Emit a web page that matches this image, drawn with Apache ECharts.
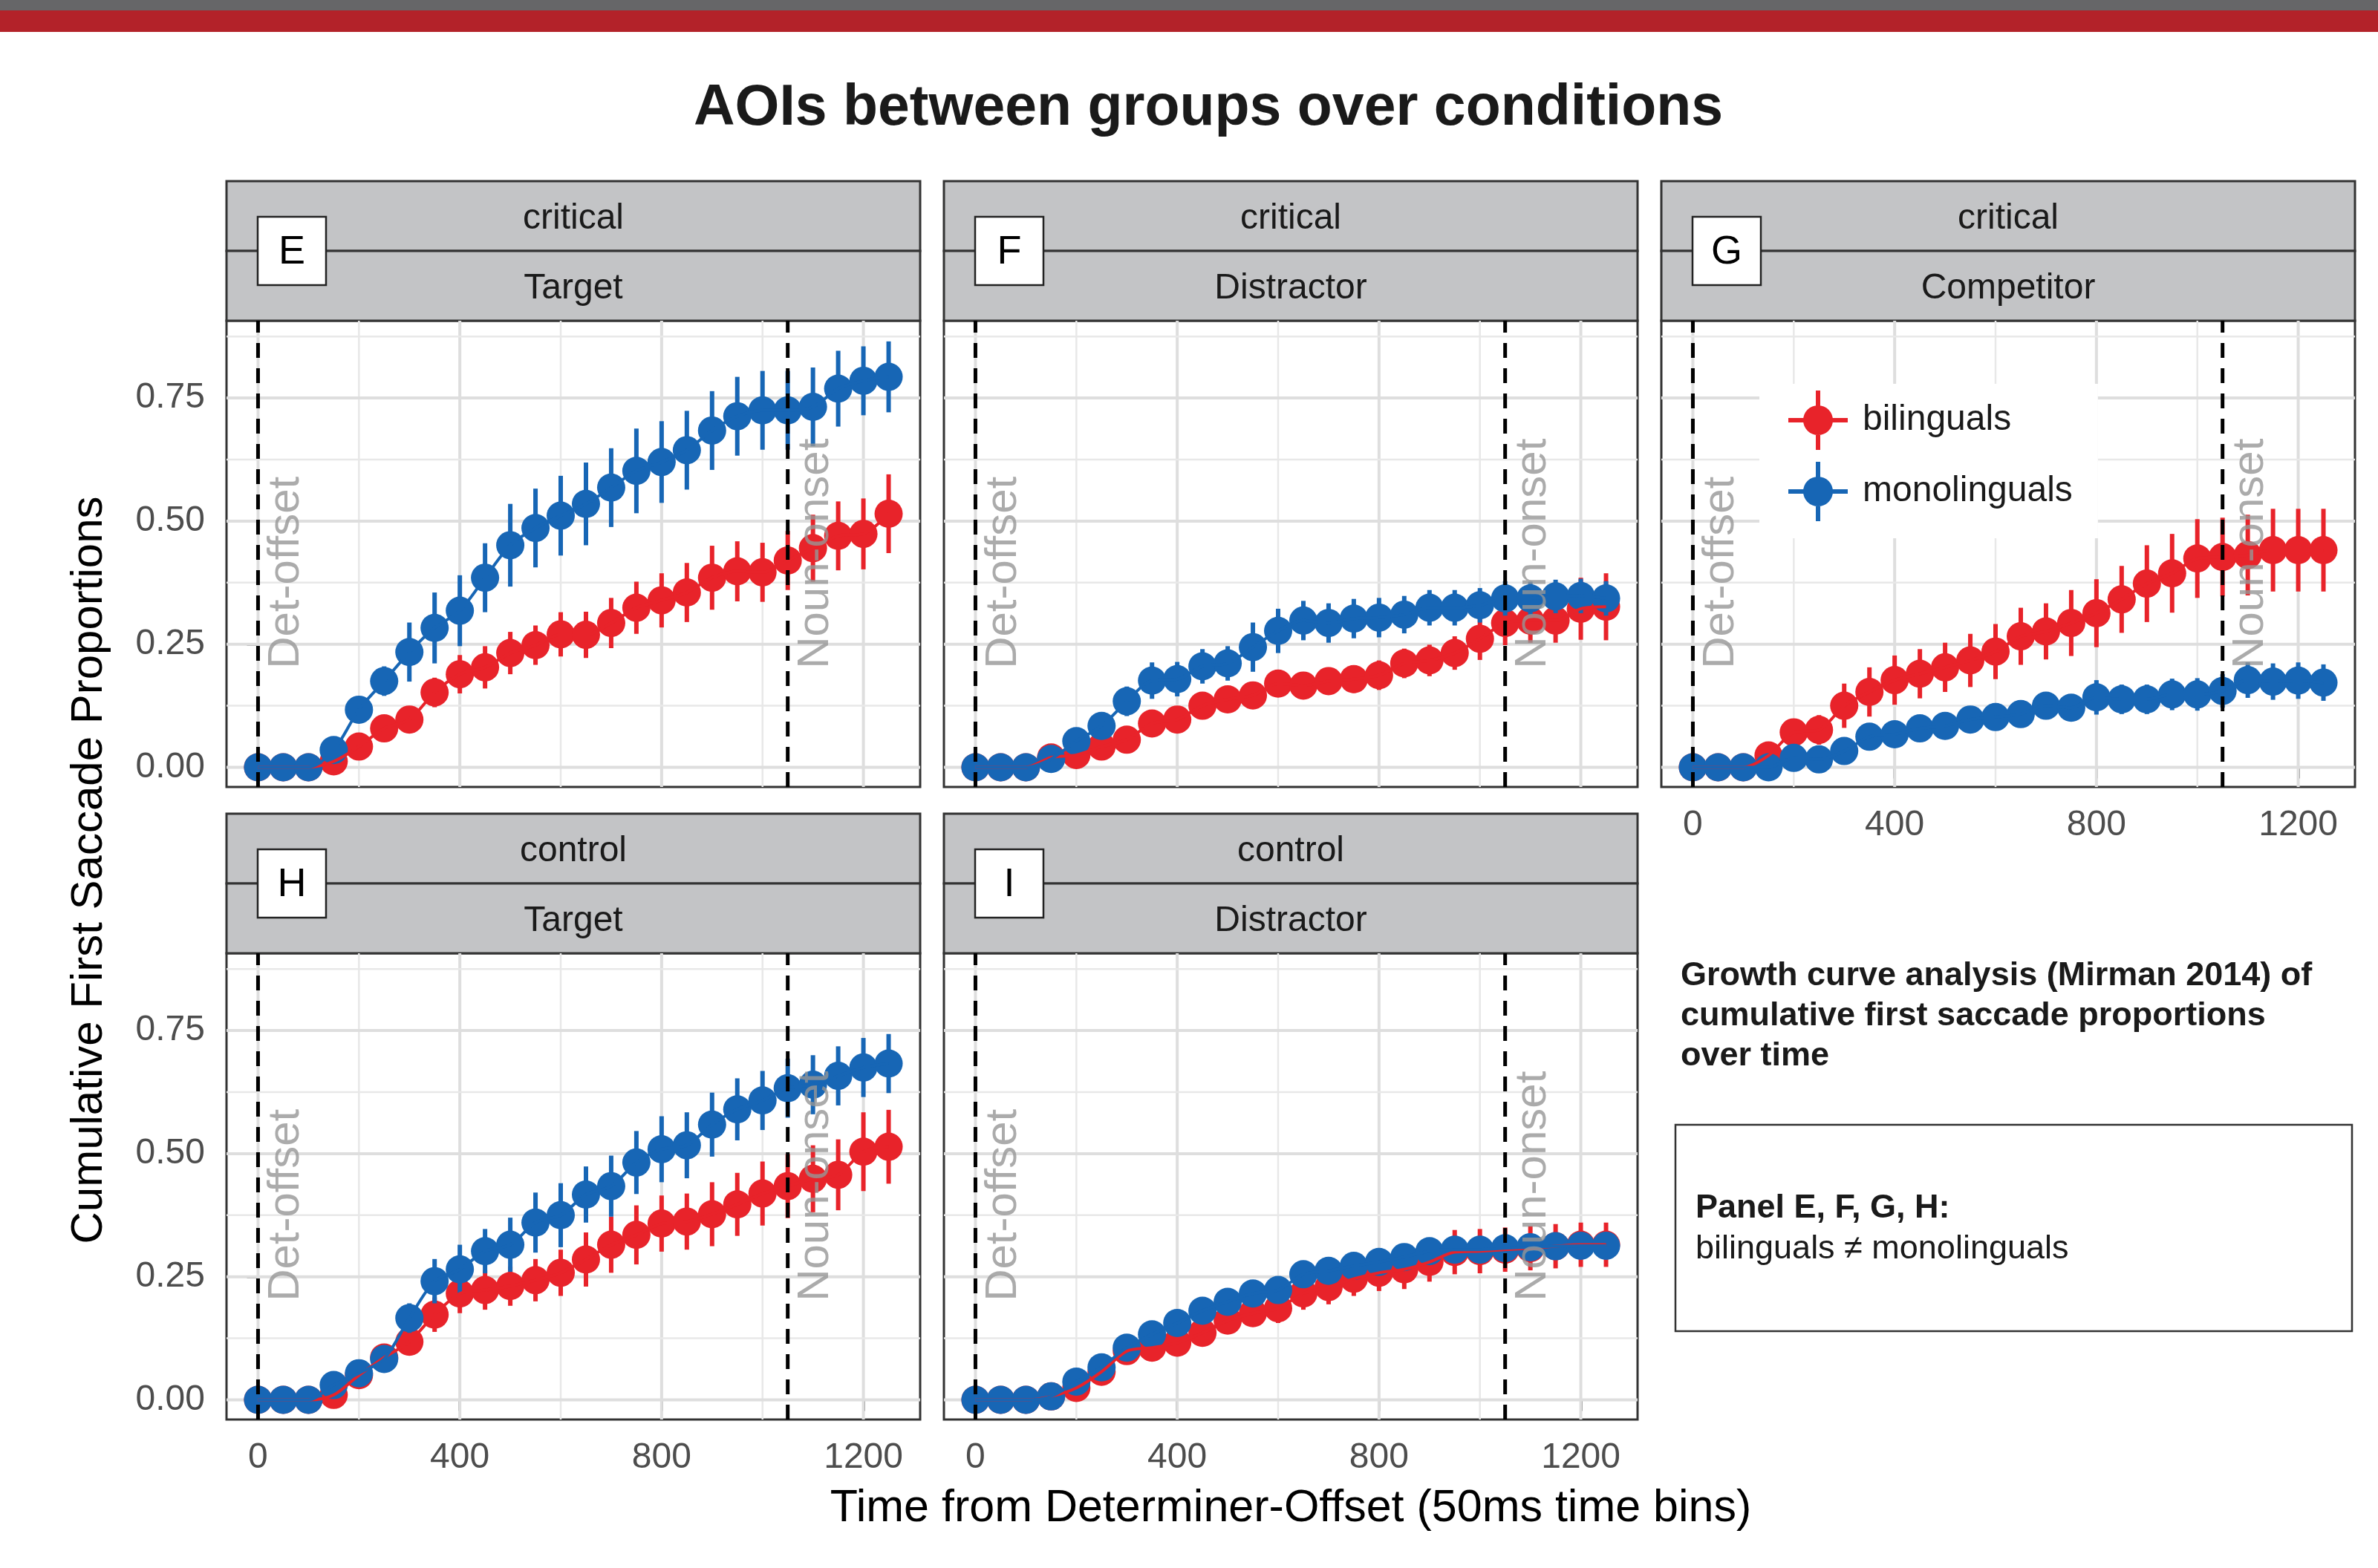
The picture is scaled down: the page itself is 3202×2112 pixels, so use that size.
<!DOCTYPE html>
<html>
<head>
<meta charset="utf-8">
<script src="https://cdn.jsdelivr.net/npm/echarts@6.0.0/dist/echarts.min.js"></script>
<style>
  html, body { margin: 0; padding: 0; background: #fff; }
  #chart { width: 3202px; height: 2112px; }
</style>
</head>
<body>
<div id="chart"></div>
<script>
// time bins, ms from determiner offset (50ms bins)
var timeBins = [0, 50, 100, 150, 200, 250, 300, 350, 400, 450, 500, 550, 600, 650,
  700, 750, 800, 850, 900, 950, 1000, 1050, 1100, 1150, 1200, 1250];
var xTicks = [0, 400, 800, 1200];
var xMinor = [200, 600, 1000];
var yTicks = [0, 0.25, 0.5, 0.75];
var yMinor = [0.125, 0.375, 0.625, 0.875];
var eventTimes = [0, 1050];
var eventNames = ['Det-offset', 'Noun-onset'];
var eventLabelY = 0.2;
var groupNames = ['bilinguals', 'monolinguals'];

// E: critical / Target
var biE = [0, 0, 0, 0.012, 0.042, 0.079, 0.097, 0.152, 0.189, 0.203, 0.232, 0.248, 0.270, 0.269,
  0.293, 0.324, 0.339, 0.355, 0.385, 0.398, 0.396, 0.420, 0.445, 0.470, 0.474, 0.515];
var biEerr = [0, 0, 0, 0.005, 0.01, 0.015, 0.02, 0.03, 0.039, 0.043, 0.043, 0.04, 0.045, 0.047,
  0.051, 0.053, 0.055, 0.06, 0.065, 0.061, 0.06, 0.06, 0.068, 0.07, 0.072, 0.08];
var monoE = [0, 0, 0, 0.035, 0.117, 0.175, 0.234, 0.283, 0.318, 0.385, 0.451, 0.486, 0.511, 0.535,
  0.568, 0.602, 0.620, 0.644, 0.684, 0.713, 0.725, 0.725, 0.732, 0.769, 0.785, 0.793];
var monoEerr = [0, 0, 0, 0.008, 0.015, 0.03, 0.06, 0.072, 0.072, 0.07, 0.084, 0.08, 0.081, 0.084,
  0.08, 0.086, 0.083, 0.08, 0.08, 0.08, 0.08, 0.08, 0.08, 0.077, 0.07, 0.072];

// F: critical / Distractor
var biF = [0, 0, 0, 0.02, 0.025, 0.042, 0.056, 0.089, 0.097, 0.125, 0.138, 0.146, 0.170, 0.166,
  0.175, 0.179, 0.187, 0.211, 0.217, 0.232, 0.261, 0.293, 0.298, 0.298, 0.322, 0.326];
var biFerr = [0, 0, 0, 0.005, 0.01, 0.012, 0.015, 0.02, 0.02, 0.022, 0.025, 0.025, 0.027, 0.027,
  0.028, 0.028, 0.03, 0.03, 0.032, 0.034, 0.043, 0.045, 0.045, 0.045, 0.063, 0.068];
var monoF = [0, 0, 0, 0.017, 0.053, 0.084, 0.134, 0.176, 0.179, 0.205, 0.211, 0.244, 0.277, 0.298,
  0.293, 0.302, 0.304, 0.310, 0.324, 0.324, 0.329, 0.343, 0.343, 0.347, 0.348, 0.343];
var monoFerr = [0, 0, 0, 0.005, 0.01, 0.02, 0.03, 0.037, 0.035, 0.035, 0.035, 0.05, 0.045, 0.04,
  0.04, 0.04, 0.04, 0.038, 0.036, 0.036, 0.035, 0.035, 0.034, 0.034, 0.035, 0.035];

// G: critical / Competitor
var biG = [0, 0, 0, 0.024, 0.071, 0.076, 0.125, 0.153, 0.177, 0.190, 0.203, 0.217, 0.235, 0.266,
  0.276, 0.293, 0.313, 0.341, 0.373, 0.394, 0.424, 0.427, 0.431, 0.441, 0.441, 0.441];
var biGerr = [0, 0, 0, 0.008, 0.02, 0.03, 0.045, 0.05, 0.05, 0.05, 0.05, 0.054, 0.056, 0.058,
  0.057, 0.067, 0.069, 0.068, 0.078, 0.08, 0.08, 0.08, 0.082, 0.084, 0.084, 0.084];
var monoG = [0, 0, 0, 0, 0.019, 0.016, 0.033, 0.062, 0.067, 0.079, 0.084, 0.097, 0.102, 0.108,
  0.125, 0.121, 0.142, 0.138, 0.138, 0.148, 0.148, 0.155, 0.177, 0.174, 0.176, 0.172];
var monoGerr = [0, 0, 0, 0, 0.005, 0.008, 0.01, 0.012, 0.014, 0.015, 0.016, 0.018, 0.02, 0.022,
  0.024, 0.026, 0.035, 0.03, 0.03, 0.032, 0.033, 0.034, 0.036, 0.037, 0.037, 0.037];

// H: control / Target
var biH = [0, 0, 0, 0.010, 0.050, 0.086, 0.118, 0.173, 0.216, 0.223, 0.231, 0.243, 0.258, 0.285,
  0.315, 0.335, 0.358, 0.362, 0.377, 0.397, 0.419, 0.434, 0.449, 0.457, 0.504, 0.514];
var biHerr = [0, 0, 0, 0.005, 0.01, 0.015, 0.025, 0.035, 0.04, 0.04, 0.04, 0.043, 0.047, 0.055,
  0.057, 0.06, 0.057, 0.057, 0.065, 0.064, 0.065, 0.065, 0.068, 0.072, 0.08, 0.075];
var monoH = [0, 0, 0, 0.030, 0.054, 0.083, 0.166, 0.241, 0.265, 0.302, 0.315, 0.360, 0.375, 0.417,
  0.434, 0.482, 0.509, 0.517, 0.559, 0.590, 0.608, 0.633, 0.640, 0.658, 0.675, 0.683];
var monoHerr = [0, 0, 0, 0.005, 0.01, 0.015, 0.03, 0.045, 0.05, 0.045, 0.055, 0.061, 0.065, 0.057,
  0.062, 0.064, 0.067, 0.067, 0.065, 0.063, 0.06, 0.06, 0.06, 0.06, 0.06, 0.06];

// I: control / Distractor
var biI = [0, 0, 0, 0.007, 0.024, 0.057, 0.099, 0.106, 0.116, 0.136, 0.161, 0.176, 0.186, 0.216,
  0.229, 0.246, 0.258, 0.265, 0.280, 0.300, 0.302, 0.305, 0.308, 0.312, 0.315, 0.315];
var biIerr = [0, 0, 0, 0.005, 0.008, 0.01, 0.015, 0.018, 0.02, 0.022, 0.025, 0.027, 0.03, 0.033,
  0.035, 0.035, 0.037, 0.04, 0.04, 0.045, 0.045, 0.045, 0.045, 0.045, 0.045, 0.045];
var monoI = [0, 0, 0, 0.007, 0.037, 0.066, 0.106, 0.133, 0.156, 0.181, 0.199, 0.216, 0.223, 0.255,
  0.262, 0.272, 0.280, 0.290, 0.302, 0.305, 0.305, 0.308, 0.310, 0.312, 0.313, 0.313];
var monoIerr = [0, 0, 0, 0.005, 0.008, 0.01, 0.012, 0.014, 0.015, 0.016, 0.017, 0.018, 0.019, 0.02,
  0.02, 0.021, 0.022, 0.022, 0.023, 0.023, 0.024, 0.024, 0.024, 0.025, 0.025, 0.025];

var FONT = '"Liberation Sans", Arial, Helvetica, sans-serif';
var RED = '#e8232a';
var BLUE = '#1766b5';

// layout
var colLeft = [305, 1271, 2237];
var rowTop = [432, 1284];
var panelW = 934, panelH = 628, stripH = 94;

var panels = [
  { row: 0, col: 0, letter: 'E', cond: 'critical', aoi: 'Target', bi: biE, biErr: biEerr, mono: monoE, monoErr: monoEerr, xLab: false, yLab: true },
  { row: 0, col: 1, letter: 'F', cond: 'critical', aoi: 'Distractor', bi: biF, biErr: biFerr, mono: monoF, monoErr: monoFerr, xLab: false, yLab: false },
  { row: 0, col: 2, letter: 'G', cond: 'critical', aoi: 'Competitor', bi: biG, biErr: biGerr, mono: monoG, monoErr: monoGerr, xLab: true, yLab: false },
  { row: 1, col: 0, letter: 'H', cond: 'control', aoi: 'Target', bi: biH, biErr: biHerr, mono: monoH, monoErr: monoHerr, xLab: true, yLab: true },
  { row: 1, col: 1, letter: 'I', cond: 'control', aoi: 'Distractor', bi: biI, biErr: biIerr, mono: monoI, monoErr: monoIerr, xLab: true, yLab: false }
];

function ruleSeries(gi) {
  var items = [];
  xTicks.forEach(function (v) { items.push([v, 0, 1]); });
  xMinor.forEach(function (v) { items.push([v, 0, 0]); });
  yTicks.forEach(function (v) { items.push([v, 1, 1]); });
  yMinor.forEach(function (v) { items.push([v, 1, 0]); });
  return {
    type: 'custom', xAxisIndex: gi, yAxisIndex: gi, silent: true, z: 1,
    encode: { x: 0 },
    data: items,
    renderItem: function (params, api) {
      var v = api.value(0), horiz = api.value(1), major = api.value(2);
      var cs = params.coordSys, shape;
      if (horiz) {
        var py = api.coord([0, v])[1];
        shape = { x1: cs.x, y1: py, x2: cs.x + cs.width, y2: py };
      } else {
        var px = api.coord([v, 0])[0];
        shape = { x1: px, y1: cs.y, x2: px, y2: cs.y + cs.height };
      }
      return { type: 'line', shape: shape, style: { stroke: major ? '#dedede' : '#e8e8e8', lineWidth: major ? 4 : 2.5 } };
    }
  };
}

function errSeries(gi, vals, errs, color, z) {
  return {
    type: 'custom', xAxisIndex: gi, yAxisIndex: gi, silent: true, z: z,
    encode: { x: 0, y: [1, 2] },
    data: timeBins.map(function (t, i) { return [t, vals[i] - errs[i], vals[i] + errs[i]]; }),
    renderItem: function (params, api) {
      var a = api.coord([api.value(0), api.value(1)]);
      var b = api.coord([api.value(0), api.value(2)]);
      return { type: 'line', shape: { x1: a[0], y1: a[1], x2: b[0], y2: b[1] }, style: { stroke: color, lineWidth: 6 } };
    }
  };
}

function pointSeries(gi, name, vals, color, z) {
  return {
    type: 'scatter', name: name, xAxisIndex: gi, yAxisIndex: gi, z: z, silent: true,
    symbol: 'circle', symbolSize: 38,
    itemStyle: { color: color, opacity: 1, borderWidth: 0 },
    data: timeBins.map(function (t, i) { return [t, vals[i]]; })
  };
}

function fitSeries(gi, vals, color) {
  return {
    type: 'line', xAxisIndex: gi, yAxisIndex: gi, z: 5, silent: true,
    symbol: 'none', showSymbol: false, smooth: 0.3,
    lineStyle: { color: color, width: 4 },
    data: timeBins.map(function (t, i) { return [t, vals[i]]; })
  };
}

function eventSeries(gi) {
  return {
    type: 'custom', xAxisIndex: gi, yAxisIndex: gi, silent: true, z: 6,
    encode: { x: 0, y: 1 },
    data: eventTimes.map(function (t, i) { return [t, eventLabelY, i]; }),
    renderItem: function (params, api) {
      var p = api.coord([api.value(0), api.value(1)]);
      var cs = params.coordSys;
      return {
        type: 'group', children: [
          { type: 'line', shape: { x1: p[0], y1: cs.y + cs.height, x2: p[0], y2: cs.y },
            style: { stroke: '#000', lineWidth: 5, lineDash: [20, 14] } },
          { type: 'text', x: p[0] + 8, y: p[1], rotation: Math.PI / 2,
            style: { text: eventNames[api.value(2)], fontSize: 60, fontFamily: FONT,
              fill: 'rgba(150,150,150,0.8)', align: 'left', verticalAlign: 'top' } }
        ]
      };
    }
  };
}

var grids = [], xAxes = [], yAxes = [], series = [], graphics = [];

graphics.push({ type: 'rect', shape: { x: 0, y: 0, width: 3202, height: 14 }, style: { fill: '#666668' } });
graphics.push({ type: 'rect', shape: { x: 0, y: 14, width: 3202, height: 29 }, style: { fill: '#b32229' } });
graphics.push({ type: 'text', x: 1627, y: 147,
  style: { text: 'AOIs between groups over conditions', fontSize: 77, fontWeight: 'bold', fontFamily: FONT,
    fill: '#1a1a1a', align: 'center', verticalAlign: 'middle' } });

panels.forEach(function (p, gi) {
  var left = colLeft[p.col], top = rowTop[p.row];
  grids.push({ left: left, top: top, width: panelW, height: panelH, show: true,
    backgroundColor: '#fff', borderColor: '#333', borderWidth: 3, outerBoundsMode: 'none' });
  xAxes.push({
    gridIndex: gi, type: 'value', min: -62.5, max: 1312.5,
    axisLine: { show: false }, splitLine: { show: false },
    axisTick: { show: p.xLab, customValues: xTicks, length: 15, lineStyle: { color: '#333', width: 3.5 } },
    axisLabel: { show: p.xLab, customValues: xTicks, margin: 28, fontSize: 48, color: '#4d4d4d', fontFamily: FONT,
      formatter: function (v) { return String(v); } }
  });
  yAxes.push({
    gridIndex: gi, type: 'value', min: -0.04, max: 0.907,
    axisLine: { show: false }, splitLine: { show: false },
    axisTick: { show: p.yLab, customValues: yTicks, length: 15, lineStyle: { color: '#333', width: 3.5 } },
    axisLabel: { show: p.yLab, customValues: yTicks, margin: 29, fontSize: 48, color: '#4d4d4d', fontFamily: FONT,
      formatter: function (v) { return v.toFixed(2); } }
  });

  series.push(ruleSeries(gi));
  series.push(errSeries(gi, p.bi, p.biErr, RED, 2));
  series.push(pointSeries(gi, groupNames[0], p.bi, RED, 2));
  series.push(errSeries(gi, p.mono, p.monoErr, BLUE, 3));
  series.push(pointSeries(gi, groupNames[1], p.mono, BLUE, 3));
  series.push(fitSeries(gi, p.bi, RED));
  series.push(fitSeries(gi, p.mono, BLUE));
  series.push(eventSeries(gi));

  // facet strips
  [p.cond, p.aoi].forEach(function (label, k) {
    var sy = top - 2 * stripH + k * stripH;
    graphics.push({ type: 'rect', shape: { x: left, y: sy, width: panelW, height: stripH },
      style: { fill: '#c3c4c6', stroke: '#333', lineWidth: 3 } });
    graphics.push({ type: 'text', x: left + panelW / 2, y: sy + stripH / 2 + 4,
      style: { text: label, fontSize: 48, fontFamily: FONT, fill: '#1a1a1a', align: 'center', verticalAlign: 'middle' } });
  });
  // panel letter box
  graphics.push({ type: 'rect', shape: { x: left + 42, y: top - stripH - 46, width: 92, height: 92 },
    style: { fill: '#fff', stroke: '#222', lineWidth: 2.5 } });
  graphics.push({ type: 'text', x: left + 88, y: top - stripH + 2,
    style: { text: p.letter, fontSize: 54, fontFamily: FONT, fill: '#000', align: 'center', verticalAlign: 'middle' } });
});

// axis titles
graphics.push({ type: 'text', x: 120, y: 1172, rotation: Math.PI / 2,
  style: { text: 'Cumulative First Saccade Proportions', fontSize: 60, fontFamily: FONT, fill: '#000',
    align: 'center', verticalAlign: 'middle' } });
graphics.push({ type: 'text', x: 1738, y: 2032,
  style: { text: 'Time from Determiner-Offset (50ms time bins)', fontSize: 61, fontFamily: FONT, fill: '#000',
    align: 'center', verticalAlign: 'middle' } });

// side notes
graphics.push({ type: 'text', x: 2263, y: 1369,
  style: { text: 'Growth curve analysis (Mirman 2014) of\ncumulative first saccade proportions\nover time',
    fontSize: 45, fontWeight: 'bold', lineHeight: 54, fontFamily: FONT, fill: '#1a1a1a',
    align: 'left', verticalAlign: 'middle' } });
graphics.push({ type: 'rect', shape: { x: 2256, y: 1515, width: 911, height: 278 },
  style: { fill: 'none', stroke: '#333', lineWidth: 2.5 } });
graphics.push({ type: 'text', x: 2283, y: 1628,
  style: { text: 'Panel E, F, G, H:', fontSize: 45, fontWeight: 'bold', fontFamily: FONT, fill: '#1a1a1a',
    align: 'left', verticalAlign: 'middle' } });
graphics.push({ type: 'text', x: 2283, y: 1683,
  style: { text: 'bilinguals \u2260 monolinguals', fontSize: 45, fontFamily: FONT, fill: '#1a1a1a',
    align: 'left', verticalAlign: 'middle' } });

var keyIcon = 'path://M0,37h80v6h-80z M37,0h6v80h-6z M60,40a20,20 0 1,1 -40,0a20,20 0 1,1 40,0z';

var chart = echarts.init(document.getElementById('chart'));
chart.setOption({
  animation: false,
  backgroundColor: '#fff',
  grid: grids,
  xAxis: xAxes,
  yAxis: yAxes,
  legend: {
    orient: 'vertical', left: 2369, top: 517,
    padding: [9, 34, 23, 39], itemGap: 16, itemWidth: 80, itemHeight: 80,
    backgroundColor: '#fff', selectedMode: false, z: 10,
    itemStyle: { borderWidth: 0 },
    textStyle: { fontSize: 48, fontFamily: FONT, color: '#1a1a1a', padding: [0, 0, 0, 15] },
    data: groupNames.map(function (n) { return { name: n, icon: keyIcon }; })
  },
  graphic: graphics,
  series: series
});
</script>
</body>
</html>
